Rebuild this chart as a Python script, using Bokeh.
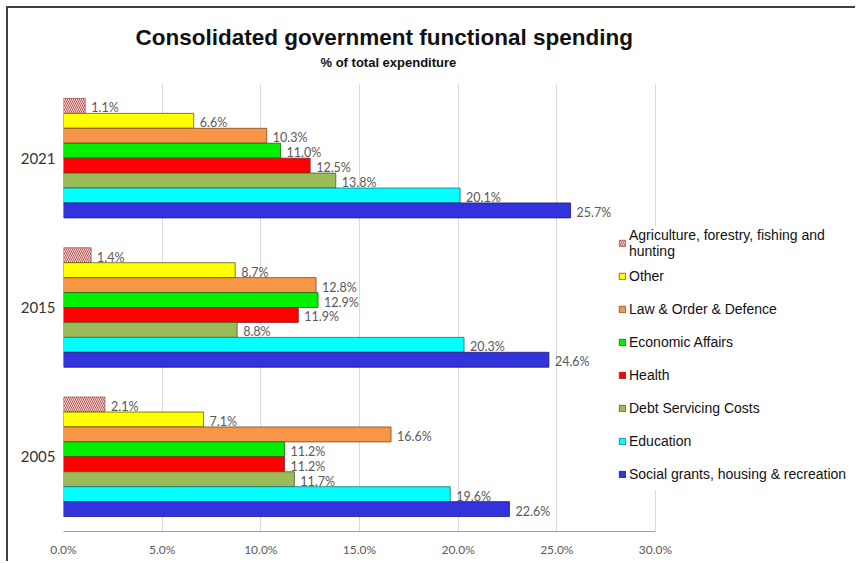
from bokeh.plotting import figure
from bokeh.models import (ColumnDataSource, FactorRange, FixedTicker, PrintfTickFormatter,
                          Legend, LegendItem, Title, Range1d)
from bokeh.transform import dodge
from bokeh.core.properties import value
from bokeh.embed import file_html
from bokeh.resources import INLINE

years = ["2005", "2015", "2021"]
series_names = ["Agriculture, forestry, fishing and\nhunting", "Other", "Law & Order & Defence",
                "Economic Affairs", "Health", "Debt Servicing Costs", "Education",
                "Social grants, housing & recreation"]
agriculture = [2.1, 1.4, 1.1]
other = [7.1, 8.7, 6.6]
law_order_defence = [16.6, 12.8, 10.3]
economic_affairs = [11.2, 12.9, 11.0]
health = [11.2, 11.9, 12.5]
debt_servicing = [11.7, 8.8, 13.8]
education = [19.6, 20.3, 20.1]
social_grants = [22.6, 24.6, 25.7]
x_ticks = [0, 5, 10, 15, 20, 25, 30]

all_values = [agriculture, other, law_order_defence, economic_affairs, health,
              debt_servicing, education, social_grants]
fills = ["#f4e1e0", "#ffff00", "#f79646", "#00f000", "#ff0000", "#9bbb59", "#00ffff", "#3333dd"]
outlines = ["#a05050", "#5a5a20", "#7a4a20", "#206020", "#802020", "#4a5a2a", "#207070", "#1a1a70"]

# frame spans the legend area too; the axis itself is bounded to 0..30
p = figure(width=849, height=555, y_range=FactorRange(*years), x_range=Range1d(0, 40.24),
           output_backend="svg", toolbar_location=None, title=None,
           min_border_left=55, min_border_right=0, min_border_top=75, min_border_bottom=32)
p.margin = (6, 0, 0, 6)
p.styles = {"border-top": "2px solid #404040", "border-left": "2px solid #404040"}
p.outline_line_color = None
p.background_fill_color = "white"
p.border_fill_color = "white"

items = []
for i, (name, vals) in enumerate(zip(series_names, all_values)):
    off = 0.35 - 0.1 * i
    src = ColumnDataSource(dict(year=years, val=vals, label=[f"{v:.1f}%" for v in vals]))
    kw = {}
    if i == 0:
        kw = dict(hatch_pattern="\\", hatch_color="#c0504d", hatch_scale=4, hatch_weight=1)
    r = p.hbar(y=dodge("year", off, range=p.y_range), left=0, right="val", height=0.1,
               source=src, fill_color=fills[i], line_color=outlines[i], line_width=0.8, **kw)
    p.text(x="val", y=dodge("year", off, range=p.y_range), text="label", source=src,
           x_offset=6, y_offset=2, text_baseline="middle", text_align="left",
           text_font=value("Lato"), text_font_size="12.5px", text_color="#595959")
    items.append(LegendItem(label=name, renderers=[r]))

legend = Legend(items=items, location=(555, 41), background_fill_color="white",
                background_fill_alpha=1.0, border_line_color=None, padding=0, spacing=0,
                margin=0, label_height=33, glyph_width=8, glyph_height=8, label_standoff=3,
                label_text_font="Liberation Sans", label_text_font_size="14px",
                label_text_line_height=1.2, label_text_color="#111111")
p.add_layout(legend)

p.xaxis.ticker = FixedTicker(ticks=x_ticks)
p.xaxis.bounds = (0, 30)
p.xaxis.formatter = PrintfTickFormatter(format="%.1f%%")
p.xaxis.major_tick_out = 0
p.xaxis.major_tick_in = 0
p.xaxis.minor_tick_out = 0
p.xaxis.minor_tick_in = 0
p.xaxis.axis_line_color = "#a0a0a0"
p.xaxis.major_label_standoff = 10
p.xaxis.major_label_text_font = "Lato"
p.xaxis.major_label_text_font_size = "12px"
p.xaxis.major_label_text_color = "#595959"

p.yaxis.major_tick_out = 0
p.yaxis.major_tick_in = 0
p.yaxis.axis_line_color = None
p.yaxis.major_label_standoff = 8
p.yaxis.major_label_text_font = "Lato"
p.yaxis.major_label_text_font_size = "15px"
p.yaxis.major_label_text_color = "#333333"

p.xgrid.grid_line_color = "#d9d9d9"
p.ygrid.grid_line_color = None

sub = Title(text="% of total expenditure", align="left", offset=257, standoff=28,
            text_font="Liberation Sans", text_font_size="13px", text_font_style="bold",
            text_color="#111111")
p.add_layout(sub, "above")
ttl = Title(text="Consolidated government functional spending", align="left", offset=72,
            standoff=-23, text_font="Liberation Sans", text_font_size="22.5px",
            text_font_style="bold", text_color="#111111")
p.add_layout(ttl, "above")

open("out.html", "w").write(file_html(p, INLINE))
